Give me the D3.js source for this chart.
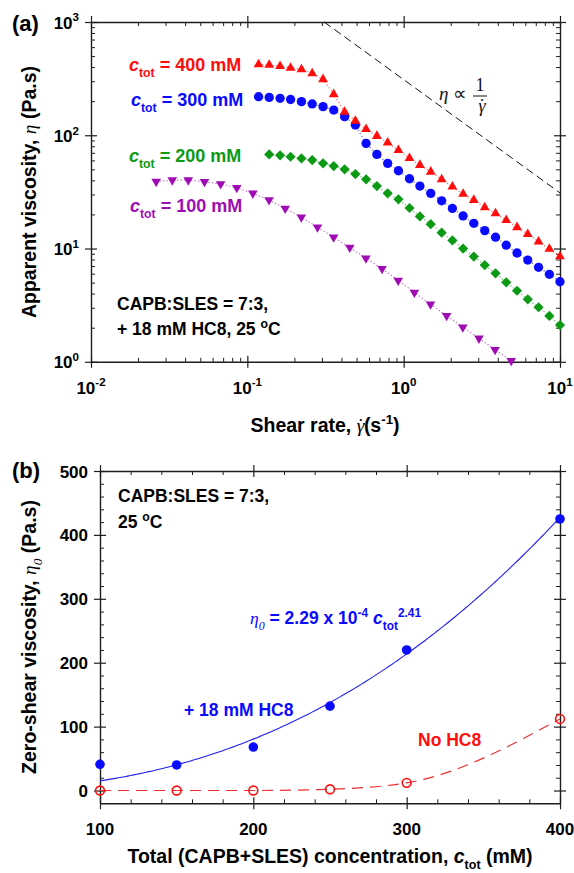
<!DOCTYPE html>
<html>
<head>
<meta charset="utf-8">
<script src="https://cdn.jsdelivr.net/npm/d3@7"></script>
<style>
  html, body { margin: 0; padding: 0; background: #fff; }
  svg { display: block; font-family: "Liberation Sans", Arial, sans-serif; }
</style>
</head>
<body>
<svg id="fig" width="574" height="873"></svg>
<script>
// ---------------- data ----------------
// (a) flow curves: apparent viscosity (Pa.s) vs shear rate (1/s)
const shearRate = [0.118, 0.138, 0.162, 0.189, 0.222, 0.260, 0.305, 0.357, 0.419, 0.491,
                   0.575, 0.674, 0.790, 0.926, 1.09, 1.27, 1.49, 1.75, 2.05, 2.40,
                   2.81, 3.30, 3.87, 4.53, 5.31, 6.22, 7.29, 8.55, 10.0];
const eta400 = [423, 417, 408, 394, 382, 352, 312, 230, 161, 134,
                113, 98.4, 85.9, 74.0, 62.9, 54.6, 47.6, 40.8, 35.1, 30.3,
                26.8, 23.1, 20.4, 17.8, 15.4, 13.4, 11.5, 9.9, 8.5];
const eta300 = [219, 216, 212, 207, 198, 189, 179, 167, 146, 123,
                84.8, 67.8, 56.5, 48.6, 41.3, 35.6, 30.7, 26.4, 22.6, 19.4,
                16.7, 14.4, 12.6, 10.7, 9.13, 7.91, 6.83, 5.92, 5.09];
const shearRate200 = [0.138, 0.162, 0.189, 0.222, 0.260, 0.305, 0.357, 0.419, 0.491,
                      0.575, 0.674, 0.790, 0.926, 1.09, 1.27, 1.49, 1.75, 2.05, 2.40,
                      2.81, 3.30, 3.87, 4.53, 5.31, 6.22, 7.29, 8.55, 10.0];
const eta200 = [67.8, 66.5, 64.6, 62.5, 60.4, 56.5, 53.5, 50.0, 45.4,
                40.8, 35.6, 30.7, 27.2, 22.8, 19.2, 16.4, 13.8, 11.8, 10.0,
                8.50, 7.15, 6.04, 5.03, 4.24, 3.56, 3.03, 2.54, 2.11];
const shearRate100 = [0.0261, 0.0331, 0.0419, 0.0532, 0.0675, 0.0856, 0.1085, 0.1377, 0.1747, 0.2215,
                      0.2810, 0.3565, 0.4521, 0.5735, 0.7274, 0.9229, 1.171, 1.485, 1.884, 2.389,
                      3.030, 3.844, 4.877];
const eta100 = [39.0, 40.2, 40.2, 38.9, 37.1, 34.4, 30.7, 26.8, 22.6, 18.9,
                15.4, 12.6, 10.2, 8.20, 6.62, 5.23, 4.09, 3.22, 2.55, 2.02,
                1.61, 1.28, 1.02];
// guide line eta = K / shear rate
const guideK = 310;
const guideShear = [0.31, 10];

const decadesX = [0.01, 0.1, 1, 10];
const decadesY = [1, 10, 100, 1000];

// (b) zero-shear viscosity vs total surfactant concentration
const conc = [100, 150, 200, 250, 300, 400];
const eta0HC8 = [41, 40, 68, 132, 220, 425];
const eta0NoHC8 = [0, 0, 0, 2, 12, 112];
const fitPrefactor = 2.29e-4;
const fitExponent = 2.41;
const concTicks = [100, 200, 300, 400];
const eta0Ticks = [0, 100, 200, 300, 400, 500];

// ---------------- setup ----------------
const SERIF = "'Liberation Serif', 'Times New Roman', serif";
const COL = { red: "#ff0d0d", blue: "#0a0aff", green: "#0c9a14", purple: "#a00cb4", axis: "#1e1e1e" };

const svg = d3.select("#fig");
svg.append("rect").attr("width", 574).attr("height", 873).attr("fill", "#fff");

// text with italic / serif / subscript / superscript pieces
function richText(g, x, y, parts, o) {
  const t = g.append("text")
    .attr("x", x).attr("y", y)
    .attr("font-size", o.size)
    .attr("font-weight", o.weight || "bold")
    .attr("fill", o.fill || "#000")
    .attr("text-anchor", o.anchor || "start");
  if (o.rotate) t.attr("transform", `rotate(-90 ${x} ${y})`);
  let cur = 0;
  parts.forEach(p => {
    if (typeof p === "string") p = { t: p };
    const off = p.sub ? o.size * 0.32 : p.sup ? -o.size * 0.42 : 0;
    const s = t.append("tspan").text(p.t).attr("dy", off - cur);
    cur = off;
    if (p.sub || p.sup) s.attr("font-size", o.size * (p.scale || 0.68));
    if (p.it) s.attr("font-style", "italic");
    if (p.serif) s.attr("font-family", SERIF).attr("font-weight", "normal");
    if (p.dx) s.attr("dx", p.dx);
  });
  return t;
}

// shear-rate symbol: italic gamma with an overdot
const gammaDot = (size) => [
  { t: "γ", it: true, serif: true },
  { t: "˙", serif: true, dx: -0.36 * size }
];

// box frame: ticks on all four sides, majors cross the line, minors point inward
function frame(g, x, y, xMajor, xMinor, yMajor, yMinor) {
  const [xl, xr] = x.range();
  const [yb, yt] = y.range();
  const sides = [
    { make: () => d3.axisBottom(x), tr: `translate(0,${yb})`, major: xMajor, minor: xMinor, a: "y" },
    { make: () => d3.axisTop(x), tr: `translate(0,${yt})`, major: xMajor, minor: xMinor, a: "y" },
    { make: () => d3.axisLeft(y), tr: `translate(${xl},0)`, major: yMajor, minor: yMinor, a: "x" },
    { make: () => d3.axisRight(y), tr: `translate(${xr},0)`, major: yMajor, minor: yMinor, a: "x" }
  ];
  sides.forEach(s => {
    const gMinor = g.append("g").attr("transform", s.tr)
      .call(s.make().tickValues(s.minor).tickSizeInner(-4).tickSizeOuter(0).tickFormat(""));
    gMinor.select(".domain").attr("stroke", COL.axis).attr("stroke-width", 1.4);
    gMinor.selectAll(".tick line").attr("stroke", COL.axis).attr("stroke-width", 1);
    const gMajor = g.append("g").attr("transform", s.tr)
      .call(s.make().tickValues(s.major).tickSizeInner(-6).tickSizeOuter(0).tickFormat(""));
    gMajor.select(".domain").remove();
    gMajor.selectAll(".tick line")
      .attr("stroke", COL.axis).attr("stroke-width", 1.2)
      .attr(s.a + "1", function () { return -(+d3.select(this).attr(s.a + "2")); });
  });
}

// ---------------- panel (a) ----------------
const gA = svg.append("g");
const xA = d3.scaleLog().domain([0.01, 10]).range([91, 560]);
const yA = d3.scaleLog().domain([1, 1000]).range([361.8, 22]);

const xMinorA = xA.ticks().filter(v => !decadesX.some(d => Math.abs(d - v) < 1e-9));
const yMinorA = yA.ticks().filter(v => !decadesY.some(d => Math.abs(d - v) < 1e-9));
frame(gA, xA, yA, decadesX, xMinorA, decadesY, yMinorA);

// tick labels as powers of ten
decadesX.forEach(v => {
  richText(gA, xA(v), 393.5, ["10", { t: String(Math.round(Math.log10(v))), sup: true }],
    { size: 17, anchor: "middle" });
});
decadesY.forEach(v => {
  richText(gA, 79, yA(v) + 6.5, ["10", { t: String(Math.round(Math.log10(v))), sup: true }],
    { size: 17, anchor: "end" });
});

// guide line eta ~ 1/shear rate
gA.append("path")
  .datum(guideShear)
  .attr("d", d3.line().x(d => xA(d)).y(d => yA(guideK / d)))
  .attr("fill", "none").attr("stroke", "#111").attr("stroke-width", 1)
  .attr("stroke-dasharray", "8,4.5");

const seriesA = [
  { x: shearRate100, y: eta100, color: COL.purple, type: d3.symbolTriangle, size: 40, rot: 180 },
  { x: shearRate200, y: eta200, color: COL.green, type: d3.symbolSquare, size: 52, rot: 45 },
  { x: shearRate, y: eta300, color: COL.blue, type: d3.symbolCircle, size: 68, rot: 0 },
  { x: shearRate, y: eta400, color: COL.red, type: d3.symbolTriangle, size: 42, rot: 0 }
];

seriesA.forEach(s => {
  const pts = s.x.map((v, i) => [v, s.y[i]]);
  gA.append("path")
    .datum(pts)
    .attr("d", d3.line().x(d => xA(d[0])).y(d => yA(d[1])))
    .attr("fill", "none").attr("stroke", s.color).attr("stroke-width", 1.2)
    .attr("stroke-opacity", 0.6).attr("stroke-dasharray", "1.3,2.2");
});
seriesA.forEach(s => {
  const pts = s.x.map((v, i) => [v, s.y[i]]);
  gA.append("g").selectAll("path")
    .data(pts).join("path")
    .attr("transform", d => `translate(${xA(d[0])},${yA(d[1])}) rotate(${s.rot})`)
    .attr("d", d3.symbol().type(s.type).size(s.size))
    .attr("fill", s.color);
});

// series labels
const labelsA = [
  { x: 129, y: 71, txt: "400", color: COL.red },
  { x: 131, y: 106, txt: "300", color: COL.blue },
  { x: 129, y: 162, txt: "200", color: COL.green },
  { x: 130, y: 212, txt: "100", color: COL.purple }
];
labelsA.forEach(l => {
  richText(gA, l.x, l.y, [{ t: "c", it: true }, { t: "tot", sub: true }, ` = ${l.txt} mM`],
    { size: 18, fill: l.color });
});

// 1/shear-rate annotation
richText(gA, 439, 100, [{ t: "η", it: true, serif: true }, { t: " ∝", serif: true }],
  { size: 19, weight: "normal", fill: "#111" });
gA.append("text").attr("x", 480).attr("y", 91).attr("text-anchor", "middle")
  .attr("font-family", SERIF).attr("font-size", 18).attr("fill", "#111").text("1");
gA.append("line").attr("x1", 473).attr("x2", 487).attr("y1", 96).attr("y2", 96)
  .attr("stroke", "#111").attr("stroke-width", 1);
richText(gA, 482, 112, gammaDot(18), { size: 18, weight: "normal", fill: "#111", anchor: "middle" });

// conditions
richText(gA, 117, 310, ["CAPB:SLES = 7:3,"], { size: 17.5 });
richText(gA, 117, 335, ["+ 18 mM HC8, 25 ", { t: "o", sup: true, scale: 0.7 }, "C"], { size: 17.5 });

// panel letter and axis titles
richText(gA, 12, 31, ["(a)"], { size: 22 });
richText(gA, 36, 192, ["Apparent viscosity, ", { t: "η", it: true, serif: true }, " (Pa.s)"],
  { size: 19.5, anchor: "middle", rotate: true });
richText(gA, 325, 432, ["Shear rate, ", ...gammaDot(19.5), "(s",
  { t: "-1", sup: true }, ")"], { size: 19.5, anchor: "middle" });

// ---------------- panel (b) ----------------
const gB = svg.append("g");
const xB = d3.scaleLinear().domain([100, 400]).range([100, 560]);
const yB = d3.scaleLinear().domain([-20, 500]).range([803.3, 471]);

const xMinorB = d3.range(120, 400, 20).filter(v => v % 100 !== 0);
const yMinorB = d3.range(20, 500, 20).filter(v => v % 100 !== 0);
frame(gB, xB, yB, concTicks, xMinorB, eta0Ticks, yMinorB);

concTicks.forEach(v => {
  richText(gB, xB(v), 835, [String(v)], { size: 17, anchor: "middle" });
});
eta0Ticks.forEach(v => {
  richText(gB, 88, yB(v) + 6.5, [String(v)], { size: 17, anchor: "end" });
});

// power-law fit for the HC8 series
const fitC = d3.range(100, 400.01, 2);
gB.append("path")
  .datum(fitC)
  .attr("d", d3.line().x(c => xB(c)).y(c => yB(fitPrefactor * Math.pow(c, fitExponent))))
  .attr("fill", "none").attr("stroke", "#2020f0").attr("stroke-width", 1.1);

// smooth guide through the no-HC8 series
gB.append("path")
  .datum(conc.map((c, i) => [c, eta0NoHC8[i]]))
  .attr("d", d3.line().curve(d3.curveMonotoneX).x(d => xB(d[0])).y(d => yB(d[1])))
  .attr("fill", "none").attr("stroke", "#f03030").attr("stroke-width", 1.2)
  .attr("stroke-dasharray", "11,7");

gB.append("g").selectAll("circle")
  .data(conc.map((c, i) => [c, eta0HC8[i]])).join("circle")
  .attr("cx", d => xB(d[0])).attr("cy", d => yB(d[1])).attr("r", 4.8)
  .attr("fill", COL.blue);

gB.append("g").selectAll("circle")
  .data(conc.map((c, i) => [c, eta0NoHC8[i]])).join("circle")
  .attr("cx", d => xB(d[0])).attr("cy", d => yB(d[1])).attr("r", 4.4)
  .attr("fill", "none").attr("stroke", COL.red).attr("stroke-width", 1.6);

// annotations
richText(gB, 118, 502, ["CAPB:SLES = 7:3,"], { size: 17.5 });
richText(gB, 118, 528, ["25 ", { t: "o", sup: true, scale: 0.7 }, "C"], { size: 17.5 });
richText(gB, 250, 624, [{ t: "η", it: true, serif: true }, { t: "0", sub: true, it: true, serif: true },
  " = 2.29 x 10", { t: "-4", sup: true }, " ", { t: "c", it: true }, { t: "tot", sub: true },
  { t: "2.41", sup: true }], { size: 17.5, fill: COL.blue });
richText(gB, 184, 716, ["+ 18 mM HC8"], { size: 17.5, fill: COL.blue });
richText(gB, 418, 746, ["No HC8"], { size: 17.5, fill: COL.red });

richText(gB, 12, 478, ["(b)"], { size: 22 });
richText(gB, 36, 637, ["Zero-shear viscosity, ", { t: "η", it: true, serif: true },
  { t: "0", sub: true, it: true, serif: true }, " (Pa.s)"],
  { size: 19.5, anchor: "middle", rotate: true });
richText(gB, 330, 863, ["Total (CAPB+SLES) concentration, ", { t: "c", it: true },
  { t: "tot", sub: true, scale: 0.64 }, " (mM)"], { size: 19.5, anchor: "middle" });
</script>
</body>
</html>
